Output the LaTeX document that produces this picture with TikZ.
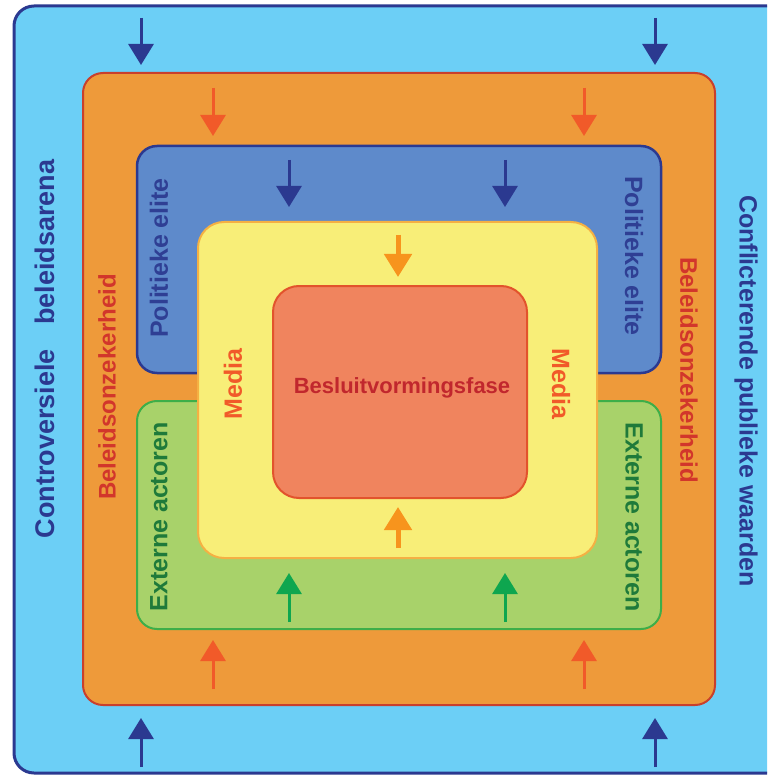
\documentclass[tikz,border=0pt]{standalone}
\usepackage{fontspec}
\setmainfont{Liberation Sans}
\usetikzlibrary{arrows.meta}
\definecolor{skyfill}{HTML}{6CCFF6}
\definecolor{navy}{HTML}{2B3990}
\definecolor{orfill}{HTML}{EE9A3A}
\definecolor{orline}{HTML}{C9402C}
\definecolor{bluefill}{HTML}{5E8ACB}
\definecolor{greenfill}{HTML}{A8D26A}
\definecolor{greenline}{HTML}{3DAE49}
\definecolor{greentext}{HTML}{1F7A3A}
\definecolor{yelfill}{HTML}{F8EE78}
\definecolor{yelline}{HTML}{F5B043}
\definecolor{redfill}{HTML}{F0845E}
\definecolor{redline}{HTML}{E2532C}
\definecolor{redtext}{HTML}{D2362B}
\definecolor{darkred}{HTML}{C1272D}
\definecolor{arrred}{HTML}{F15A29}
\definecolor{arryel}{HTML}{F7941D}
\definecolor{arrgreen}{HTML}{0EA64F}
\definecolor{eliteText}{HTML}{2F3F94}
\tikzset{
  box/.style={rectangle, rounded corners=20pt, inner sep=0pt, minimum width=#1},
  lbl/.style={font=\bfseries\fontsize{25}{30}\selectfont, inner sep=0pt},
  arr/.style={-{Triangle[width=25pt,length=21pt]}, line width=3pt},
  arrthick/.style={-{Triangle[width=27pt,length=23pt]}, line width=5pt},
}
\begin{document}
\begin{tikzpicture}[x=1pt,y=-1pt]
\useasboundingbox (0,0) rectangle (767,775);
\clip (0,0) rectangle (767,775);
\fill[white] (0,0) rectangle (767,775);
% boxes
\node[box=806pt, minimum height=767pt, fill=skyfill, draw=navy, line width=3pt] (arena) at (417,389.5) {};
\node[box=632pt, minimum height=632pt, fill=orfill, draw=orline, line width=2pt] (onzeker) at (399,389) {};
\node[box=524pt, minimum height=227pt, fill=bluefill, draw=navy, line width=2.5pt] (elite) at (399,259.5) {};
\node[box=524pt, minimum height=228pt, fill=greenfill, draw=greenline, line width=2pt] (extern) at (399,515) {};
\node[box=399pt, minimum height=336pt, rounded corners=26pt, fill=yelfill, draw=yelline, line width=2pt] (media) at (397.5,390) {};
\node[box=254pt, minimum height=212pt, rounded corners=26pt, fill=redfill, draw=redline, line width=2pt] (besluit) at (400,392) {};
% labels
\node[lbl, text=navy, rotate=90, font=\bfseries\fontsize{27}{30}\selectfont] (t1) at (45,349) {Controversiele\hspace{0.9em}beleidsarena};
\node[lbl, text=navy, rotate=-90] (t2) at (746,391) {Conflicterende publieke waarden};
\node[lbl, text=redtext, rotate=90, font=\bfseries\fontsize{24}{30}\selectfont] (t3) at (107,387) {Beleidsonzekerheid};
\node[lbl, text=redtext, rotate=-90, font=\bfseries\fontsize{24}{30}\selectfont] (t4) at (689,370) {Beleidsonzekerheid};
\node[lbl, text=eliteText, rotate=90] (t5) at (159,258) {Politieke elite};
\node[lbl, text=eliteText, rotate=-90] (t6) at (634,256) {Politieke elite};
\node[lbl, text=greentext, rotate=90] (t7) at (159,517) {Externe actoren};
\node[lbl, text=greentext, rotate=-90] (t8) at (634,517) {Externe actoren};
\node[lbl, text=arrred, rotate=90] (t9) at (233,384) {Media};
\node[lbl, text=arrred, rotate=-90] (t10) at (561,384) {Media};
\node[lbl, text=darkred, font=\bfseries\fontsize{22}{26}\selectfont] (t11) at (402,388) {Besluitvormingsfase};
% arrow end points
\coordinate (a1s) at (141,18);  \coordinate (a1e) at (141,65);
\coordinate (a2s) at (655,18);  \coordinate (a2e) at (655,65);
\coordinate (b1s) at (213,88);  \coordinate (b1e) at (213,136);
\coordinate (b2s) at (584,88);  \coordinate (b2e) at (584,136);
\coordinate (c1s) at (289,160); \coordinate (c1e) at (289,207);
\coordinate (c2s) at (505,160); \coordinate (c2e) at (505,207);
\coordinate (d1s) at (398,235); \coordinate (d1e) at (398,277);
\coordinate (d2s) at (398,548); \coordinate (d2e) at (398,507);
\coordinate (e1s) at (289,622); \coordinate (e1e) at (289,573);
\coordinate (e2s) at (505,622); \coordinate (e2e) at (505,573);
\coordinate (f1s) at (213,689); \coordinate (f1e) at (213,640);
\coordinate (f2s) at (584,689); \coordinate (f2e) at (584,640);
\coordinate (g1s) at (141,767); \coordinate (g1e) at (141,718);
\coordinate (g2s) at (655,767); \coordinate (g2e) at (655,718);
% arrows
\draw[arr, navy] (a1s) -- (a1e);
\draw[arr, navy] (a2s) -- (a2e);
\draw[arr, arrred] (b1s) -- (b1e);
\draw[arr, arrred] (b2s) -- (b2e);
\draw[arr, navy] (c1s) -- (c1e);
\draw[arr, navy] (c2s) -- (c2e);
\draw[arrthick, arryel] (d1s) -- (d1e);
\draw[arrthick, arryel] (d2s) -- (d2e);
\draw[arr, arrgreen] (e1s) -- (e1e);
\draw[arr, arrgreen] (e2s) -- (e2e);
\draw[arr, arrred] (f1s) -- (f1e);
\draw[arr, arrred] (f2s) -- (f2e);
\draw[arr, navy] (g1s) -- (g1e);
\draw[arr, navy] (g2s) -- (g2e);
\end{tikzpicture}
\end{document}
